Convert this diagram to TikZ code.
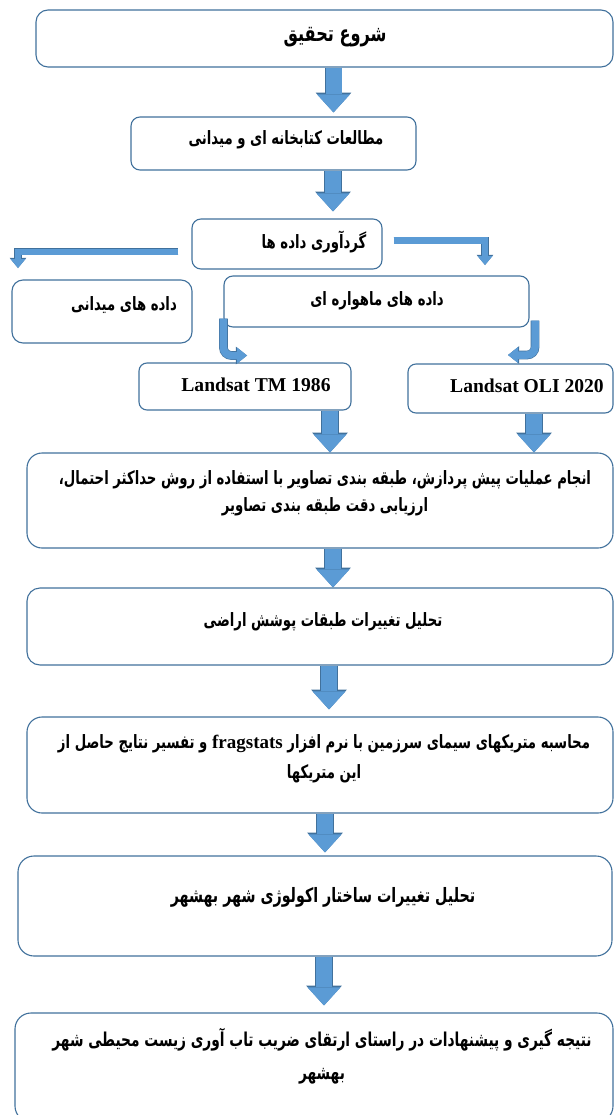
\documentclass[tikz,border=0pt]{standalone}
\usepackage{fontspec}
\setmainfont{Liberation Serif}
\newfontfamily\farsi[Script=Arabic,FakeStretch=0.72]{DejaVu Sans}
\newfontfamily\latinb{Liberation Serif}
\TeXXeTstate=1
\usetikzlibrary{arrows.meta}
\definecolor{boxline}{RGB}{65,113,156}
\definecolor{arrfill}{RGB}{91,155,213}
\definecolor{arrline}{RGB}{65,113,156}
\tikzset{
  pbox/.style={draw=boxline, line width=1.1pt, fill=white, inner sep=0pt, rounded corners=#1},
  pbox/.default=10pt,
  fa/.style 2 args={font=\farsi\bfseries\fontsize{#1}{#2}\selectfont, align=center, inner sep=0pt},
  fa/.default={18.4}{29},
  en/.style={font=\latinb\bfseries\fontsize{19.6}{22}\selectfont, inner sep=0pt},
  bigarr/.style={line width=16pt, draw=arrfill,
    -{Triangle[length=18pt,width=33pt,line width=0pt]},
    preaction={draw=arrline, line width=17.4pt, -{Triangle[length=19.8pt,width=35.6pt,line width=0pt]}}},
  thinarr/.style={line width=6pt, draw=arrfill, line join=miter,
    -{Triangle[length=9pt,width=15pt,line width=0pt]},
    preaction={draw=arrline, line width=7.2pt, -{Triangle[length=10.2pt,width=16.8pt,line width=0pt]}}},
  curvarr/.style={line width=7.5pt, draw=arrfill, rounded corners=8pt,
    -{Triangle[length=10pt,width=16pt,line width=0pt]},
    preaction={draw=arrline, line width=8.7pt, -{Triangle[length=11.2pt,width=17.8pt,line width=0pt]}}}
}
\begin{document}
\begin{tikzpicture}[x=1pt,y=-1pt]
\useasboundingbox (0,0) rectangle (614,1115);
% boxes
\node[pbox=12pt, minimum width=577pt, minimum height=57pt] (start) at (324.5,38.5) {};
\node[pbox=9pt, minimum width=285pt, minimum height=53pt] (study) at (273.5,143.5) {};
\node[pbox=9pt, minimum width=190pt, minimum height=50pt] (gather) at (287,244) {};
\node[pbox=11pt, minimum width=180pt, minimum height=63pt] (field) at (102,311.5) {};
\node[pbox=9pt, minimum width=305pt, minimum height=51pt] (sat) at (376.5,301.5) {};
\node[pbox=8pt, minimum width=212pt, minimum height=47pt] (tm) at (245,386.5) {};
\node[pbox=8pt, minimum width=205pt, minimum height=49pt] (oli) at (510.5,388.5) {};
\node[pbox=15pt, minimum width=586pt, minimum height=95pt] (proc) at (320,500.5) {};
\node[pbox=13pt, minimum width=586pt, minimum height=77pt] (cover) at (320,626.5) {};
\node[pbox=15pt, minimum width=586pt, minimum height=96pt] (metric) at (320,765) {};
\node[pbox=16pt, minimum width=594pt, minimum height=100pt] (eco) at (315,906) {};
\node[pbox=16pt, minimum width=598pt, minimum height=109pt] (concl) at (314,1067.5) {};
% texts
\node[fa={22.4}{29}] (startT) at (335,37) {\beginR شروع تحقیق\endR};
\node[fa] (studyT) at (286,140) {\beginR مطالعات کتابخانه ای و میدانی\endR};
\node[fa] (gatherT) at (314,242) {\beginR گردآوری داده ها\endR};
\node[fa] (fieldT) at (124,305) {\beginR داده های میدانی\endR};
\node[fa] (satT) at (377,301) {\beginR داده های ماهواره ای\endR};
\node[en] (tmT) at (256,385) {Landsat TM 1986};
\node[en] (oliT) at (527,386) {Landsat OLI 2020};
\node[fa={18.4}{27}] (procT) at (325,493) {\beginR انجام عملیات پیش پردازش، طبقه بندی تصاویر با استفاده از روش حداکثر احتمال،\endR\\\beginR ارزیابی دقت طبقه بندی تصاویر\endR};
\node[fa] (coverT) at (323,622) {\beginR تحلیل تغییرات  طبقات پوشش اراضی\endR};
\node[fa={18.4}{30}] (metricT) at (324,759) {\beginR محاسبه متریکهای سیمای سرزمین با نرم افزار \beginL{\latinb\bfseries\fontsize{19}{30}\selectfont fragstats}\endL{} و تفسیر نتایج حاصل از\endR\\\beginR این متریکها\endR};
\node[fa={19.8}{29}] (ecoT) at (323,897) {\beginR تحلیل تغییرات ساختار اکولوژی شهر بهشهر\endR};
\node[fa={19.1}{33}] (conclT) at (322,1056) {\beginR نتیجه گیری و پیشنهادات در راستای ارتقای ضریب تاب آوری زیست محیطی شهر\endR\\\beginR بهشهر\endR};
% arrows
\draw[bigarr, shorten >=4pt] (333.5,0 |- start.south) -- (333.5,0 |- study.north);
\draw[bigarr, shorten >=7pt] (333,0 |- study.south) -- (333,0 |- gather.north);
\draw[bigarr] (330,0 |- tm.south) -- (330,0 |- proc.north);
\draw[bigarr] (534,0 |- oli.south) -- (534,0 |- proc.north);
\draw[bigarr] (333,0 |- proc.south) -- (333,0 |- cover.north);
\draw[bigarr, shorten >=7pt] (329,0 |- cover.south) -- (329,0 |- metric.north);
\draw[bigarr, shorten >=3pt] (325,0 |- metric.south) -- (325,0 |- eco.north);
\draw[bigarr, shorten >=7pt] (324,0 |- eco.south) -- (324,0 |- concl.north);
\coordinate (fieldtip) at (18,268);
\coordinate (sattip) at (485,265);
\draw[thinarr] ([xshift=-13pt,yshift=-7.5pt]gather.west) -| (fieldtip);
\draw[thinarr] ([xshift=11pt,yshift=3.5pt]gather.east) -| (sattip);
\coordinate (tmtip) at (247,355.5);
\coordinate (olitip) at (508,355);
\draw[curvarr] ([yshift=9pt]sat.south west) |- (tmtip);
\draw[curvarr] ([xshift=5.5pt,yshift=7pt]sat.south east) |- (olitip);
\end{tikzpicture}
\end{document}
